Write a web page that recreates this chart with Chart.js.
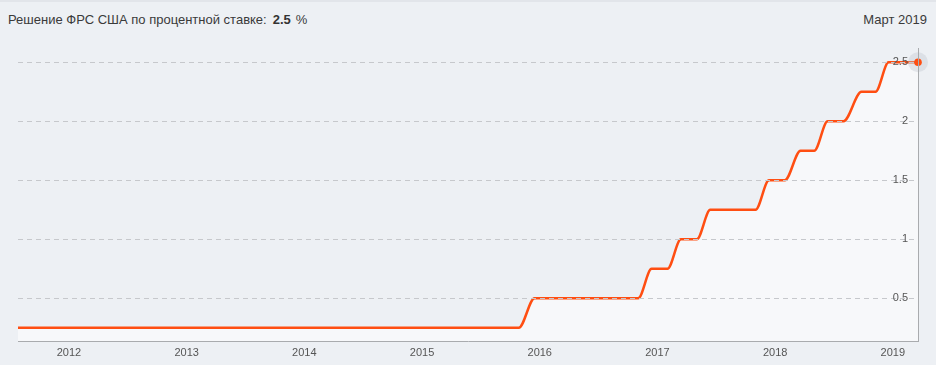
<!DOCTYPE html>
<html>
<head>
<meta charset="utf-8">
<script src="https://cdn.jsdelivr.net/npm/chart.js@4"></script>
<style>
  html, body { margin: 0; padding: 0; }
  body { width: 936px; height: 365px; background: #edf0f4; position: relative; overflow: hidden; font-family: "Liberation Sans", Arial, sans-serif; }
  #topline { position: absolute; left: 0; top: 0; width: 936px; height: 2px; background: #e2e5ea; }
  #title { position: absolute; left: 8px; top: 11px; font-size: 13px; line-height: 18px; color: #3a3a3a; white-space: nowrap; }
  #title b { color: #333; margin-left: 6px; margin-right: 5px; }
  #period { position: absolute; right: 9px; top: 11px; font-size: 13px; line-height: 18px; color: #3a3a3a; }
  #c { position: absolute; left: 0; top: 0; }
</style>
</head>
<body>
<div id="topline"></div>
<div id="title">Решение ФРС США по процентной ставке:<b id="val"></b>%</div>
<div id="period">Март 2019</div>
<canvas id="c" width="936" height="365"></canvas>
<script>
// FOMC meeting dates and the upper bound of the target rate (%)
const meetingDates = [
  '2011-06-22','2011-08-09','2011-09-21','2011-11-02','2011-12-13',
  '2012-01-25','2012-03-13','2012-04-25','2012-06-20','2012-08-01','2012-09-13','2012-10-24','2012-12-12',
  '2013-01-30','2013-03-20','2013-05-01','2013-06-19','2013-07-31','2013-09-18','2013-10-30','2013-12-18',
  '2014-01-29','2014-03-19','2014-04-30','2014-06-18','2014-07-30','2014-09-17','2014-10-29','2014-12-17',
  '2015-01-28','2015-03-18','2015-04-29','2015-06-17','2015-07-29','2015-09-17','2015-10-28','2015-12-16',
  '2016-01-27','2016-03-16','2016-04-27','2016-06-15','2016-07-27','2016-09-21','2016-11-02','2016-12-14',
  '2017-02-01','2017-03-15','2017-05-03','2017-06-14','2017-07-26','2017-09-20','2017-11-01','2017-12-13',
  '2018-01-31','2018-03-21','2018-05-02','2018-06-13','2018-08-01','2018-09-26','2018-11-08','2018-12-19',
  '2019-01-30','2019-03-20'
];
const rates = [
  0.25,0.25,0.25,0.25,0.25,
  0.25,0.25,0.25,0.25,0.25,0.25,0.25,0.25,
  0.25,0.25,0.25,0.25,0.25,0.25,0.25,0.25,
  0.25,0.25,0.25,0.25,0.25,0.25,0.25,0.25,
  0.25,0.25,0.25,0.25,0.25,0.25,0.25,0.5,
  0.5,0.5,0.5,0.5,0.5,0.5,0.5,0.75,
  0.75,1.0,1.0,1.25,1.25,1.25,1.25,1.5,
  1.5,1.75,1.75,2.0,2.0,2.25,2.25,2.5,
  2.5,2.5
];
const yearTicks = [2012, 2013, 2014, 2015, 2016, 2017, 2018, 2019];
const rateTicks = [0.5, 1, 1.5, 2, 2.5];
const viewStart = '2011-07-27';

function toYear(s) {
  const [y, m, d] = s.split('-').map(Number);
  const a = Date.UTC(y, 0, 1), b = Date.UTC(y + 1, 0, 1);
  return y + (Date.UTC(y, m - 1, d) - a) / (b - a);
}

const points = meetingDates.map((d, i) => ({ x: toYear(d), y: rates[i] }));
const last = points[points.length - 1];
document.getElementById('val').textContent = String(rates[rates.length - 1]);

const lineColor = '#ff4e12';

new Chart(document.getElementById('c'), {
  type: 'line',
  data: {
    datasets: [
      {
        data: points,
        borderColor: lineColor,
        borderWidth: 2.5,
        backgroundColor: '#f7f8fa',
        fill: 'start',
        pointRadius: 0,
        cubicInterpolationMode: 'monotone',
        order: 3
      },
      {
        data: [last],
        pointRadius: 10,
        pointBackgroundColor: 'rgba(190,195,202,0.35)',
        pointBorderWidth: 0,
        showLine: false,
        clip: false,
        order: 2
      },
      {
        data: [last],
        pointRadius: 3.8,
        pointBackgroundColor: lineColor,
        pointBorderWidth: 0,
        showLine: false,
        clip: false,
        order: 1
      }
    ]
  },
  options: {
    responsive: false,
    animation: false,
    devicePixelRatio: 1,
    layout: { padding: { left: 18, right: 18, top: 48, bottom: 0 } },
    plugins: { legend: { display: false }, tooltip: { enabled: false } },
    events: [],
    scales: {
      x: {
        type: 'linear',
        min: toYear(viewStart),
        max: last.x,
        afterBuildTicks: s => { s.ticks = yearTicks.map(v => ({ value: v })); },
        afterFit: s => { s.height = 24; },
        grid: { display: false, drawTicks: false },
        border: { display: true, color: '#a9abae', width: 1, z: 1 },
        ticks: {
          padding: 5,
          color: '#555',
          font: { family: '"Liberation Sans", Arial, sans-serif', size: 11 },
          maxRotation: 0,
          autoSkip: false,
          callback: v => String(v)
        }
      },
      y: {
        position: 'right',
        min: 0.138,
        max: 2.621,
        afterBuildTicks: s => { s.ticks = rateTicks.map(v => ({ value: v })); },
        afterFit: s => { s.width = 0; },
        grid: { color: '#c6c8cc', lineWidth: 1, drawTicks: false, z: 1 },
        border: { display: true, color: '#a9abae', width: 1, dash: [5, 4], z: 1 },
        ticks: {
          mirror: true,
          padding: -10,
          autoSkip: false,
          z: 1,
          color: '#555',
          font: { family: '"Liberation Sans", Arial, sans-serif', size: 11 },
          callback: v => String(v)
        }
      }
    }
  }
});
</script>
</body>
</html>
